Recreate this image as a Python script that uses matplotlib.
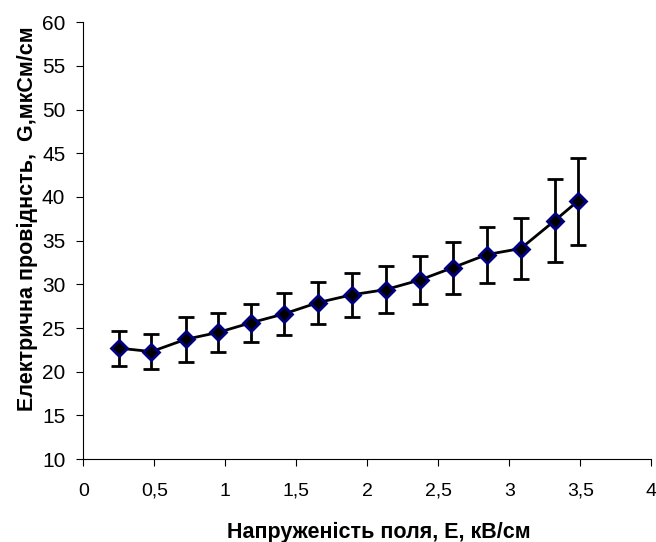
import matplotlib.pyplot as plt
from matplotlib.ticker import FuncFormatter

plt.rcParams['font.family'] = ['Liberation Sans', 'DejaVu Sans']

# напруженість поля, кВ/см
E = [0.25, 0.48, 0.72, 0.95, 1.18, 1.41, 1.65, 1.89, 2.13, 2.37, 2.60, 2.84, 3.08, 3.32, 3.48]
# електрична провідність, мкСм/см
G = [22.7, 22.3, 23.7, 24.5, 25.6, 26.6, 27.9, 28.8, 29.4, 30.5, 31.9, 33.4, 34.1, 37.3, 39.5]
# похибка
G_err = [2.0, 2.0, 2.6, 2.2, 2.2, 2.4, 2.4, 2.5, 2.7, 2.8, 3.0, 3.2, 3.5, 4.7, 5.0]

fig = plt.figure(figsize=(6.56, 5.42), dpi=100)
ax = fig.add_axes([0.127, 0.153, 0.866, 0.806])

ax.errorbar(E, G, yerr=G_err, color='black', lw=2, ecolor='black', elinewidth=2,
            capsize=6, capthick=2, marker='D', markersize=8,
            markerfacecolor='black', markeredgecolor='#000080', markeredgewidth=2)

ax.set_xlim(0, 4)
ax.set_ylim(10, 60)
ax.set_xticks([0, 0.5, 1, 1.5, 2, 2.5, 3, 3.5, 4])
ax.set_yticks(range(10, 61, 5))
ax.xaxis.set_major_formatter(FuncFormatter(lambda v, p: ('%g' % v).replace('.', ',')))
ax.spines['top'].set_visible(False)
ax.spines['right'].set_visible(False)
ax.tick_params(axis='x', labelsize=14, length=5, direction='out', pad=12)
ax.tick_params(axis='y', labelsize=15, length=5, direction='out', pad=8)

ax.set_xlabel('Напруженість поля, Е, кВ/см', fontsize=15.5, fontweight='bold',
              labelpad=16, x=0.52)
ax.set_ylabel('Електрична провіднсть,  G,мкСм/см', fontsize=15.5, fontweight='bold',
              labelpad=3, y=0.551)

fig.savefig('out.png', dpi=100)
